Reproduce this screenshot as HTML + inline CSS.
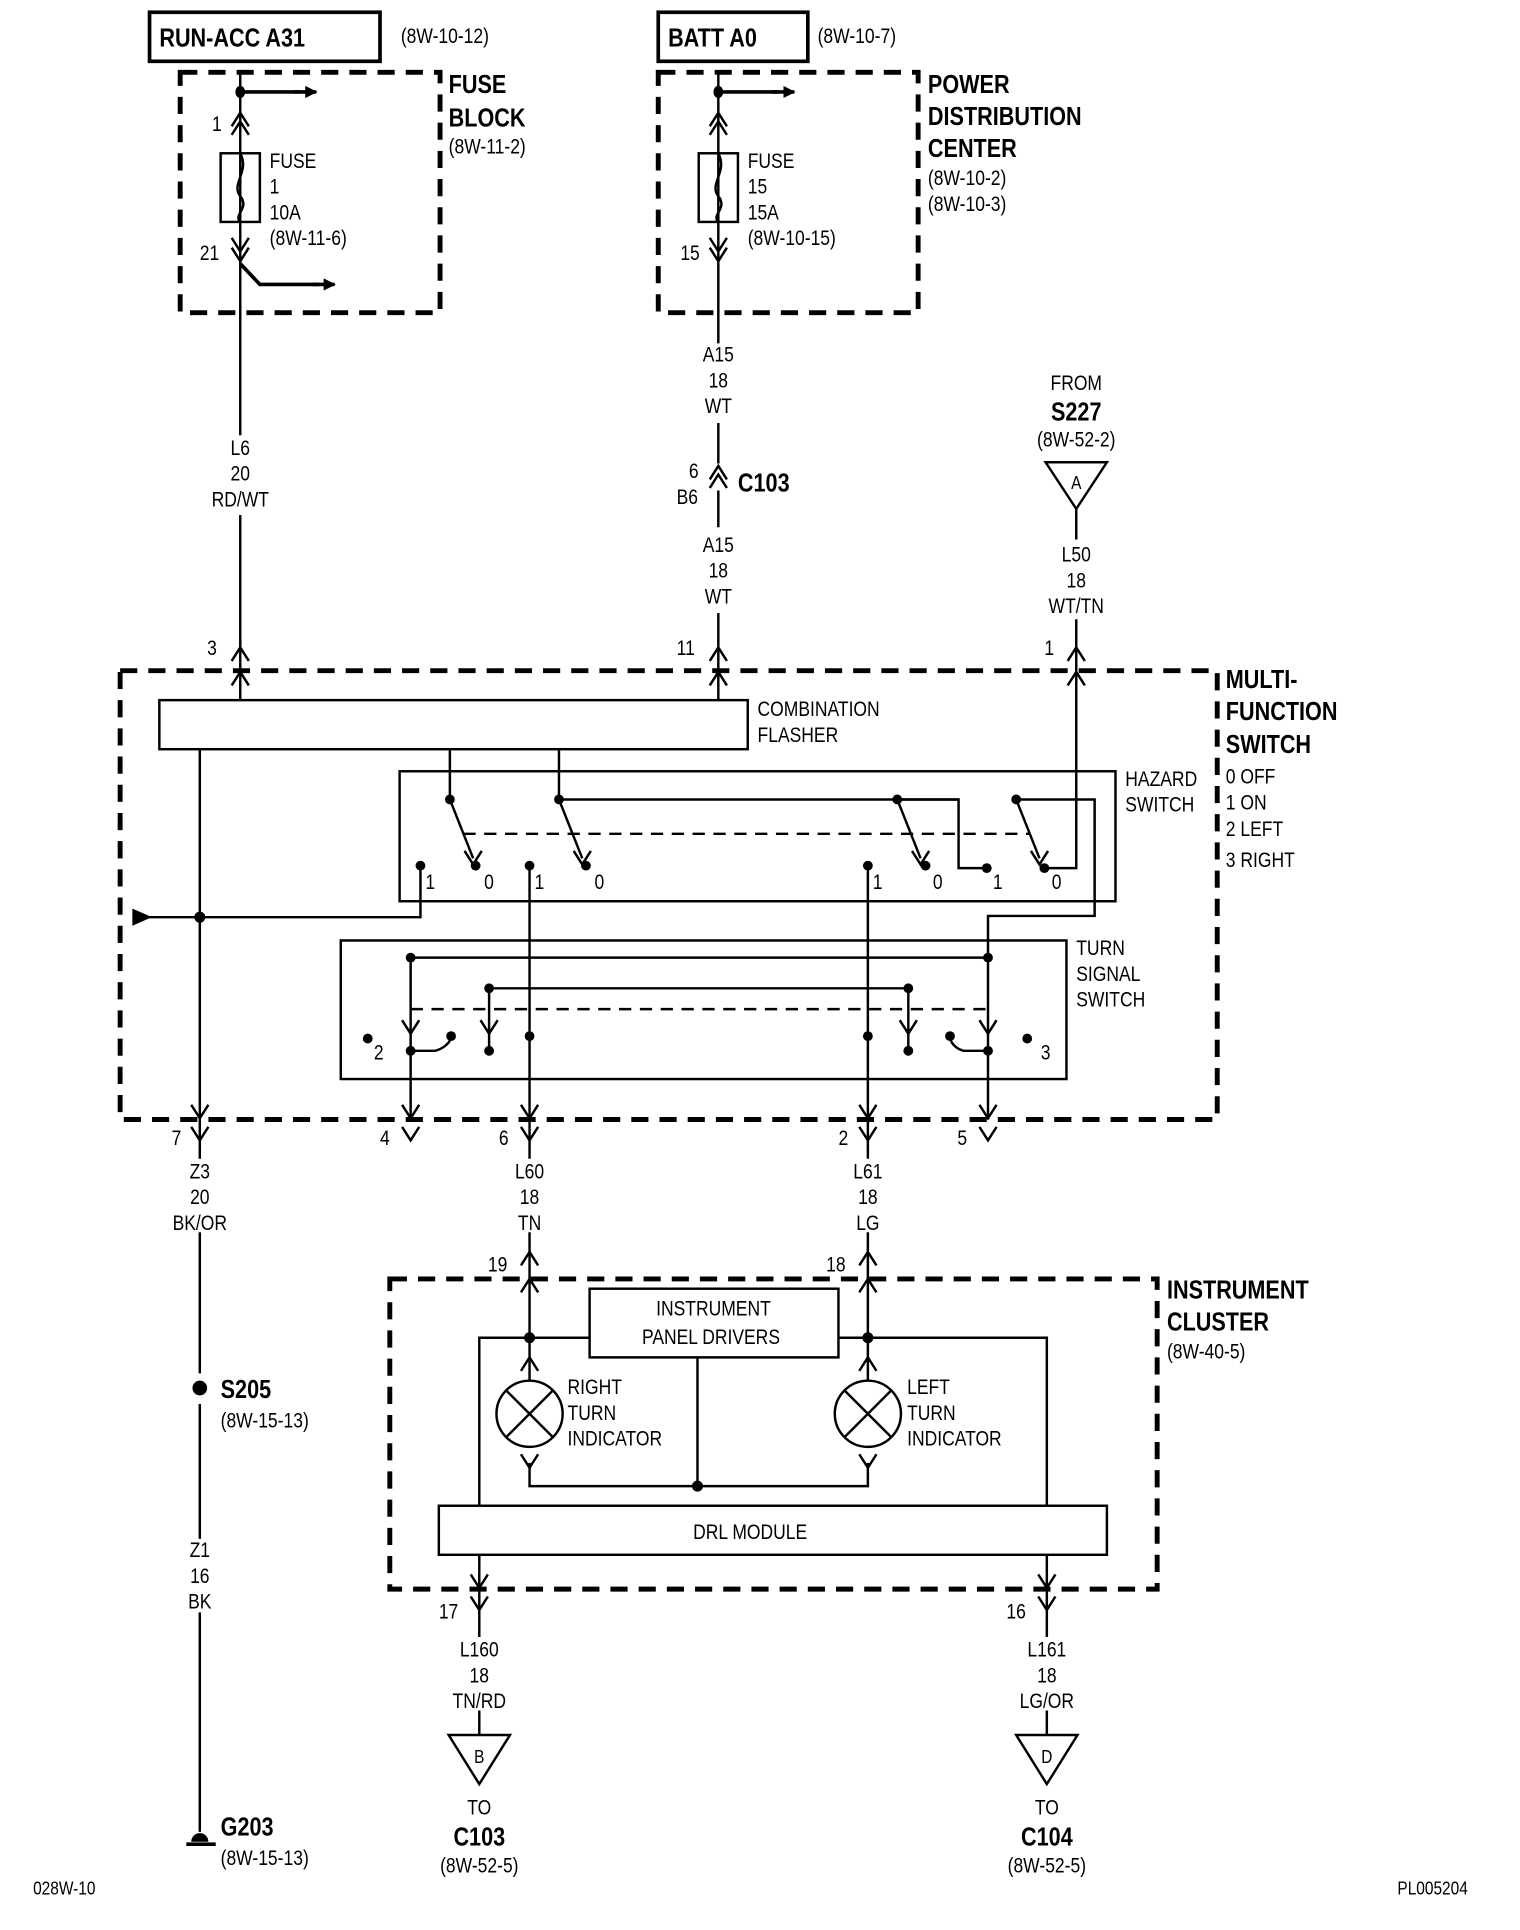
<!DOCTYPE html>
<html><head><meta charset="utf-8"><style>
html,body{margin:0;padding:0;background:#fff}
svg{display:block}
text{font-family:"Liberation Sans Narrow","Liberation Sans",sans-serif;fill:#000;font-size:17px;transform-box:fill-box;transform-origin:left center;transform:scaleX(0.84)}
.b{font-weight:bold;font-size:21px}
.m{text-anchor:middle;transform-origin:center center}
</style></head><body>
<svg width="1520" height="1930" viewBox="0 0 1240 1574" preserveAspectRatio="none" xmlns="http://www.w3.org/2000/svg">
<defs>
<path id="up" d="M-7,6 L0,-5 L7,6" fill="none" stroke="#000" stroke-width="2"/>
<path id="dn" d="M-7,-6 L0,5 L7,-6" fill="none" stroke="#000" stroke-width="2"/>
<marker id="ah" markerWidth="10" markerHeight="10" refX="9" refY="5" orient="auto" markerUnits="userSpaceOnUse"><path d="M0,0 L10,5 L0,10 Z" fill="#000"/></marker>
</defs>
<g fill="none" stroke="#000">
<rect x="122" y="10" width="188" height="40" stroke-width="3"/>
<rect x="537" y="10" width="122" height="40" stroke-width="3"/>
<g stroke-width="4" stroke-dasharray="14,9">
<rect x="147" y="59" width="212" height="196"/>
<rect x="537" y="59" width="212" height="196"/>
<rect x="98" y="547" width="895" height="366"/>
<rect x="318" y="1043" width="626" height="253"/>
</g>
<g stroke-width="2">
<line x1="196" y1="59" x2="196" y2="355"/>
<line x1="196" y1="420" x2="196" y2="540"/>
<line x1="196" y1="75" x2="245" y2="75" stroke-width="3"/>
<rect x="180" y="125" width="32" height="56"/>
<path d="M196,125 C204,140 188,150 196,160 C204,170 190,175 196,181"/>
<path d="M196,215 L212,232 L260,232" stroke-width="3"/>
<line x1="586" y1="59" x2="586" y2="280"/>
<line x1="586" y1="345" x2="586" y2="378"/>
<line x1="586" y1="400" x2="586" y2="430"/>
<line x1="586" y1="500" x2="586" y2="540"/>
<line x1="586" y1="75" x2="635" y2="75" stroke-width="3"/>
<rect x="570" y="125" width="32" height="56"/>
<path d="M586,125 C594,140 578,150 586,160 C594,170 580,175 586,181"/>
<polygon points="853,377 903,377 878,415"/>
<line x1="878" y1="415" x2="878" y2="440"/>
<line x1="878" y1="505" x2="878" y2="540"/>
<rect x="130" y="571" width="480" height="40"/>
<line x1="196" y1="540" x2="196" y2="571"/>
<line x1="586" y1="540" x2="586" y2="571"/>
<line x1="163" y1="611" x2="163" y2="913"/>
<rect x="326" y="629" width="584" height="106"/>
<line x1="367" y1="611" x2="367" y2="652"/>
<line x1="456" y1="611" x2="456" y2="652"/>
<line x1="456" y1="652" x2="782" y2="652"/>
<path d="M732,652 L782,652 L782,708 L805,708"/>
<path d="M829,652 L893,652 L893,747 L806,747 L806,913"/>
<path d="M878,540 L878,708 L852,708"/>
<line x1="367" y1="652" x2="386" y2="700"/>
<line x1="456" y1="652" x2="475" y2="700"/>
<line x1="732" y1="652" x2="751" y2="700"/>
<line x1="829" y1="652" x2="848" y2="700"/>
<line x1="378" y1="680" x2="840" y2="680" stroke-dasharray="10,7"/>
<path d="M343,708 L343,748 L108,748"/>
<line x1="432" y1="708" x2="432" y2="913"/>
<line x1="708" y1="708" x2="708" y2="913"/>
<rect x="278" y="767" width="592" height="113"/>
<line x1="335" y1="781" x2="806" y2="781"/>
<line x1="399" y1="806" x2="741" y2="806"/>
<line x1="335" y1="823" x2="806" y2="823" stroke-dasharray="10,7"/>
<line x1="335" y1="781" x2="335" y2="913"/>
<line x1="399" y1="806" x2="399" y2="857"/>
<line x1="741" y1="806" x2="741" y2="857"/>
<path d="M335,857 L355,857 C362,855 368,850 368,845"/>
<path d="M806,857 L786,857 C779,855 775,850 775,845"/>
<line x1="163" y1="913" x2="163" y2="945"/>
<line x1="163" y1="1005" x2="163" y2="1120"/>
<line x1="163" y1="1145" x2="163" y2="1255"/>
<line x1="163" y1="1315" x2="163" y2="1494"/>
<line x1="432" y1="913" x2="432" y2="945"/>
<line x1="708" y1="913" x2="708" y2="945"/>
<line x1="432" y1="1005" x2="432" y2="1153"/>
<line x1="708" y1="1005" x2="708" y2="1153"/>
<rect x="481" y="1051" width="203" height="56"/>
<path d="M481,1091 L391,1091 L391,1228"/>
<path d="M684,1091 L854,1091 L854,1228"/>
<line x1="569" y1="1107" x2="569" y2="1212"/>
<circle cx="432" cy="1153" r="27" fill="#fff"/>
<circle cx="708" cy="1153" r="27" fill="#fff"/>
<line x1="413" y1="1134" x2="451" y2="1172"/><line x1="451" y1="1134" x2="413" y2="1172"/>
<line x1="689" y1="1134" x2="727" y2="1172"/><line x1="727" y1="1134" x2="689" y2="1172"/>
<path d="M432,1193 L432,1212 L708,1212 L708,1193"/>
<rect x="358" y="1228" width="545" height="40"/>
<line x1="391" y1="1268" x2="391" y2="1335"/>
<line x1="854" y1="1268" x2="854" y2="1335"/>
<line x1="391" y1="1395" x2="391" y2="1415"/>
<line x1="854" y1="1395" x2="854" y2="1415"/>
<polygon points="366,1415 416,1415 391,1455"/>
<polygon points="829,1415 879,1415 854,1455"/>
<line x1="152" y1="1504" x2="176" y2="1504" stroke-width="3"/>
</g>
</g>
<g stroke="#000" stroke-width="3" fill="none">
<line x1="240" y1="75" x2="258" y2="75" marker-end="url(#ah)"/>
<line x1="630" y1="75" x2="648" y2="75" marker-end="url(#ah)"/>
<line x1="255" y1="232" x2="273" y2="232" marker-end="url(#ah)"/>
</g>
<path d="M108,741 L124,748 L108,755 Z" fill="#000"/>
<g>
<use href="#up" x="196" y="97"/><use href="#up" x="196" y="104"/>
<use href="#up" x="586" y="97"/><use href="#up" x="586" y="104"/>
<use href="#dn" x="196" y="200"/><use href="#dn" x="196" y="208"/>
<use href="#dn" x="586" y="200"/><use href="#dn" x="586" y="208"/>
<use href="#up" x="586" y="385"/><use href="#up" x="586" y="392"/>
<use href="#up" x="196" y="533"/><use href="#up" x="196" y="553"/>
<use href="#up" x="586" y="533"/><use href="#up" x="586" y="553"/>
<use href="#up" x="878" y="533"/><use href="#up" x="878" y="553"/>
<use href="#dn" x="163" y="907"/><use href="#dn" x="163" y="925"/>
<use href="#dn" x="335" y="907"/><use href="#dn" x="335" y="925"/>
<use href="#dn" x="432" y="907"/><use href="#dn" x="432" y="925"/>
<use href="#dn" x="708" y="907"/><use href="#dn" x="708" y="925"/>
<use href="#dn" x="806" y="907"/><use href="#dn" x="806" y="925"/>
<use href="#dn" x="335" y="838"/><use href="#dn" x="399" y="838"/>
<use href="#dn" x="741" y="838"/><use href="#dn" x="806" y="838"/>
<use href="#dn" x="386" y="700"/><use href="#dn" x="475" y="700"/>
<use href="#dn" x="751" y="700"/><use href="#dn" x="848" y="700"/>
<use href="#up" x="432" y="1026"/><use href="#up" x="432" y="1048"/>
<use href="#up" x="708" y="1026"/><use href="#up" x="708" y="1048"/>
<use href="#up" x="432" y="1112"/><use href="#up" x="708" y="1112"/>
<use href="#dn" x="432" y="1192"/><use href="#dn" x="708" y="1192"/>
<use href="#dn" x="391" y="1290"/><use href="#dn" x="391" y="1308"/>
<use href="#dn" x="854" y="1290"/><use href="#dn" x="854" y="1308"/>
</g>
<g fill="#000">
<ellipse cx="196" cy="75" rx="4" ry="5"/><ellipse cx="586" cy="75" rx="4" ry="5"/>
<circle cx="367" cy="652" r="4"/><circle cx="456" cy="652" r="4"/><circle cx="732" cy="652" r="4"/><circle cx="829" cy="652" r="4"/>
<circle cx="343" cy="706" r="4"/><circle cx="388" cy="706" r="4"/><circle cx="432" cy="706" r="4"/><circle cx="478" cy="706" r="4"/>
<circle cx="708" cy="706" r="4"/><circle cx="755" cy="706" r="4"/><circle cx="805" cy="708" r="4"/><circle cx="852" cy="708" r="4"/>
<circle cx="163" cy="748" r="4.5"/>
<circle cx="335" cy="781" r="4"/><circle cx="806" cy="781" r="4"/><circle cx="399" cy="806" r="4"/><circle cx="741" cy="806" r="4"/>
<circle cx="300" cy="847" r="4"/><circle cx="335" cy="857" r="4"/><circle cx="368" cy="845" r="4"/><circle cx="399" cy="857" r="4"/>
<circle cx="432" cy="845" r="4"/><circle cx="708" cy="845" r="4"/><circle cx="741" cy="857" r="4"/><circle cx="775" cy="845" r="4"/>
<circle cx="806" cy="857" r="4"/><circle cx="838" cy="847" r="4"/>
<circle cx="432" cy="1091" r="4.5"/><circle cx="708" cy="1091" r="4.5"/><circle cx="569" cy="1212" r="4.5"/>
<circle cx="163" cy="1132" r="6"/>
<path d="M156,1502 A7,7 0 0 1 170,1502 Z"/>
</g>
<text x="130" y="38" class="b">RUN-ACC A31</text>
<text x="327" y="35">(8W-10-12)</text>
<text x="545" y="38" class="b">BATT A0</text>
<text x="667" y="35">(8W-10-7)</text>
<text x="366" y="76" class="b">FUSE</text><text x="366" y="103" class="b">BLOCK</text><text x="366" y="125">(8W-11-2)</text>
<text x="173" y="107">1</text>
<text x="220" y="137">FUSE</text><text x="220" y="158">1</text><text x="220" y="179">10A</text><text x="220" y="200">(8W-11-6)</text>
<text x="163" y="212">21</text>
<text x="757" y="76" class="b">POWER</text><text x="757" y="102" class="b">DISTRIBUTION</text><text x="757" y="128" class="b">CENTER</text>
<text x="757" y="151">(8W-10-2)</text><text x="757" y="172">(8W-10-3)</text>
<text x="610" y="137">FUSE</text><text x="610" y="158">15</text><text x="610" y="179">15A</text><text x="610" y="200">(8W-10-15)</text>
<text x="555" y="212">15</text>
<text x="586" y="295" class="m">A15</text><text x="586" y="316" class="m">18</text><text x="586" y="337" class="m">WT</text>
<text x="586" y="450" class="m">A15</text><text x="586" y="471" class="m">18</text><text x="586" y="492" class="m">WT</text>
<text x="196" y="371" class="m">L6</text><text x="196" y="392" class="m">20</text><text x="196" y="413" class="m">RD/WT</text>
<text x="878" y="318" class="m">FROM</text><text x="878" y="343" class="b m">S227</text><text x="878" y="364" class="m">(8W-52-2)</text>
<text x="878" y="399" class="m" style="font-size:15px">A</text>
<text x="878" y="458" class="m">L50</text><text x="878" y="479" class="m">18</text><text x="878" y="500" class="m">WT/TN</text>
<text x="163" y="961" class="m">Z3</text><text x="163" y="982" class="m">20</text><text x="163" y="1003" class="m">BK/OR</text>
<text x="432" y="961" class="m">L60</text><text x="432" y="982" class="m">18</text><text x="432" y="1003" class="m">TN</text>
<text x="708" y="961" class="m">L61</text><text x="708" y="982" class="m">18</text><text x="708" y="1003" class="m">LG</text>
<text x="163" y="1270" class="m">Z1</text><text x="163" y="1291" class="m">16</text><text x="163" y="1312" class="m">BK</text>
<text x="391" y="1351" class="m">L160</text><text x="391" y="1372" class="m">18</text><text x="391" y="1393" class="m">TN/RD</text>
<text x="854" y="1351" class="m">L161</text><text x="854" y="1372" class="m">18</text><text x="854" y="1393" class="m">LG/OR</text>
<text x="391" y="1438" class="m" style="font-size:15px">B</text>
<text x="854" y="1438" class="m" style="font-size:15px">D</text>
<text x="391" y="1480" class="m">TO</text><text x="391" y="1505" class="b m">C103</text><text x="391" y="1527" class="m">(8W-52-5)</text>
<text x="854" y="1480" class="m">TO</text><text x="854" y="1505" class="b m">C104</text><text x="854" y="1527" class="m">(8W-52-5)</text>
<text x="582" y="1073" class="m">INSTRUMENT</text><text x="580" y="1096" class="m">PANEL DRIVERS</text>
<text x="612" y="1255" class="m">DRL MODULE</text>
<text x="562" y="390">6</text><text x="552" y="411">B6</text><text x="602" y="401" class="b">C103</text>
<text x="169" y="534">3</text><text x="552" y="534">11</text><text x="852" y="534">1</text>
<text x="1000" y="561" class="b">MULTI-</text><text x="1000" y="587" class="b">FUNCTION</text><text x="1000" y="614" class="b">SWITCH</text>
<text x="1000" y="639">0 OFF</text><text x="1000" y="660">1 ON</text><text x="1000" y="682">2 LEFT</text><text x="1000" y="707">3 RIGHT</text>
<text x="618" y="584">COMBINATION</text><text x="618" y="605">FLASHER</text>
<text x="918" y="641">HAZARD</text><text x="918" y="662">SWITCH</text>
<text x="878" y="779">TURN</text><text x="878" y="800">SIGNAL</text><text x="878" y="821">SWITCH</text>
<text x="347" y="725">1</text><text x="395" y="725">0</text><text x="436" y="725">1</text><text x="485" y="725">0</text>
<text x="712" y="725">1</text><text x="761" y="725">0</text><text x="810" y="725">1</text><text x="858" y="725">0</text>
<text x="305" y="864">2</text><text x="849" y="864">3</text>
<text x="140" y="934">7</text><text x="310" y="934">4</text><text x="407" y="934">6</text><text x="684" y="934">2</text><text x="781" y="934">5</text>
<text x="398" y="1037">19</text><text x="674" y="1037">18</text>
<text x="952" y="1059" class="b">INSTRUMENT</text><text x="952" y="1085" class="b">CLUSTER</text><text x="952" y="1108">(8W-40-5)</text>
<text x="463" y="1137">RIGHT</text><text x="463" y="1158">TURN</text><text x="463" y="1179">INDICATOR</text>
<text x="740" y="1137">LEFT</text><text x="740" y="1158">TURN</text><text x="740" y="1179">INDICATOR</text>
<text x="180" y="1140" class="b">S205</text><text x="180" y="1164">(8W-15-13)</text>
<text x="358" y="1320">17</text><text x="821" y="1320">16</text>
<text x="180" y="1497" class="b">G203</text><text x="180" y="1521">(8W-15-13)</text>
<text x="27" y="1545" style="font-size:15px">028W-10</text>
<text x="1140" y="1545" style="font-size:15px">PL005204</text>
</svg>
</body></html>
